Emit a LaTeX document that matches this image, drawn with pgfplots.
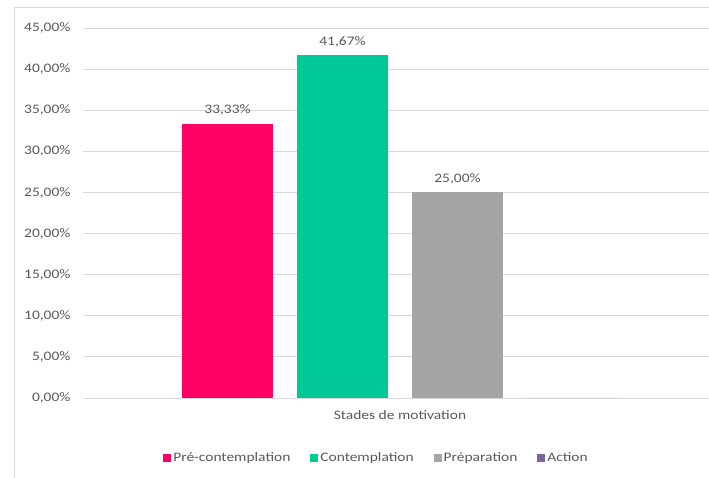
\documentclass[border=0pt]{standalone}
\usepackage{pgfplots}
\pgfplotsset{compat=1.18}
\usepackage{fontspec}
\setmainfont{Carlito}[FakeStretch=1.19]
\definecolor{cpink}{HTML}{FF0066}
\definecolor{cgreen}{HTML}{00C896}
\definecolor{cgray}{HTML}{A5A5A5}
\definecolor{cpurple}{HTML}{8064A2}
\definecolor{ctext}{HTML}{595959}
\definecolor{cgrid}{HTML}{D9D9D9}
\begin{document}
\begin{tikzpicture}[x=1pt,y=1pt]
\begin{axis}[
  name=ax,
  scale only axis, width=634, height=370,
  xmin=-0.5, xmax=0.5, ymin=0, ymax=45,
  ybar, bar width=0.1435,
  axis line style={draw=none},
  ytick={0,5,...,45},
  ymajorgrids, grid style={cgrid, line width=0.8pt},
  major tick length=0pt,
  xtick={0}, xticklabels={Stades de motivation},
  xticklabel style={yshift=-9pt},
  /pgf/number format/assume math mode=true,
  yticklabel={\pgfmathprintnumber[fixed,fixed zerofill,precision=2,use comma]{\tick}\%},
  yticklabel style={xshift=-9pt},
  tick label style={font=\fontsize{13}{15}\selectfont, text=ctext},
  nodes near coords={\pgfmathprintnumber[fixed,fixed zerofill,precision=2,use comma]{\pgfplotspointmeta}\%},
  every node near coord/.append style={font=\fontsize{13}{15}\selectfont, text=ctext, yshift=5pt},
  legend style={at={(0.463,-0.162)}, anchor=center, draw=none, fill=none,
    legend columns=4, font=\fontsize{13}{15}\selectfont, text=ctext,
    /tikz/every even column/.append style={column sep=18pt}},
  legend image code/.code={\fill[#1] (0pt,-4pt) rectangle (8pt,4pt);},
  clip=false,
]
\addplot[fill=cpink, draw=none, bar shift=-0.272] coordinates {(0,33.33)};
\addplot[fill=cgreen, draw=none, bar shift=-0.0907] coordinates {(0,41.67)};
\addplot[fill=cgray, draw=none, bar shift=0.0907] coordinates {(0,25.00)};
\addplot[fill=cpurple, draw=none, bar shift=0.272, nodes near coords={}] coordinates {(0,0)};
\legend{Pré-contemplation, Contemplation, Préparation, Action}
\end{axis}
\pgfresetboundingbox
\path[use as bounding box] (ax.south west) ++(-83pt,-80pt) rectangle ++(709pt,478pt);
\draw[cgrid, line width=0.8pt] (ax.south west) ++(-69pt,-80pt) -- ++(0pt,471pt) -- ++(695pt,0pt);
\end{tikzpicture}
\end{document}
